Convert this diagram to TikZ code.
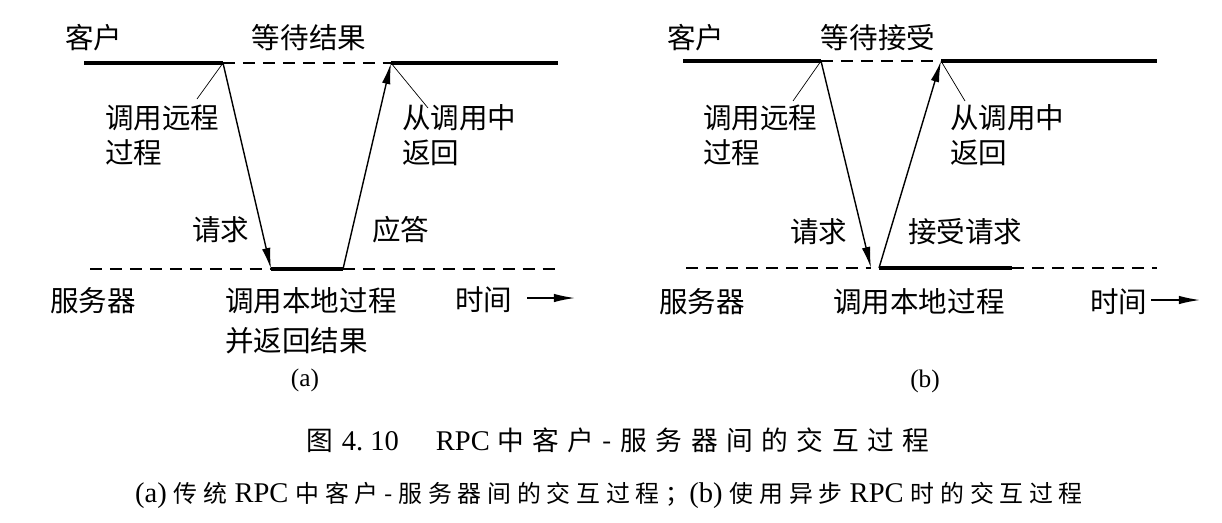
\documentclass[tikz,border=0pt]{standalone}
\usepackage{fontspec}
\setmainfont{Liberation Serif}
\newfontfamily\cjk{Noto Sans CJK SC}
\newfontfamily\cjktitle{Noto Sans CJK SC}[LetterSpace=32]
\newfontfamily\cjknote{Noto Sans CJK SC}[LetterSpace=24]
\newcommand{\titlecjk}[1]{{\cjktitle\fontsize{19}{24}\selectfont #1}}
\newcommand{\notecjk}[1]{{\cjknote\fontsize{17}{20}\selectfont #1}}
\usetikzlibrary{arrows.meta}
\tikzset{
	lbl/.style={inner sep=0pt,anchor=base west,align=left,font=\cjk\fontsize{20.3}{24.2}\selectfont},
	subtag/.style={inner sep=0pt,font=\fontsize{18}{22}\selectfont},
	figcap/.style={inner sep=0pt,anchor=base,font=\fontsize{20.3}{24}\selectfont},
	life/.style={line width=2.4pt},
	idle/.style={line width=0.8pt,dash pattern=on 8.5pt off 5.7pt},
	msg/.style={line width=1pt,-{Latex[length=15pt,width=6pt]}},
	hint/.style={line width=0.5pt}
}
\begin{document}
\begin{tikzpicture}[x=0.025cm,y=-0.025cm]
	\useasboundingbox (0,0) rectangle (1222,522);
	% (a)
	\coordinate (ca-s) at (84,63);
	\coordinate (ca-call) at (223,63);
	\coordinate (ca-ret) at (391,63);
	\coordinate (ca-e) at (558,63);
	\coordinate (sa-s) at (90,269);
	\coordinate (sa-in) at (271,269);
	\coordinate (sa-out) at (343,269);
	\coordinate (sa-e) at (558,269);
	\coordinate (la-call) at (197,99);
	\coordinate (la-ret) at (428,108);
	\coordinate (ta-s) at (527,298);
	\coordinate (ta-e) at (575,298);
	\node[lbl] (cli-a) at (65,48) {客户};
	\node[lbl,anchor=base] (wait-a) at (309,48) {等待结果};
	\node[lbl] (call-a) at (105,163) {调用远程\\过程};
	\node[lbl] (ret-a) at (402,163) {从调用中\\返回};
	\node[lbl] (req-a) at (192,240) {请求};
	\node[lbl] (rep-a) at (372,240) {应答};
	\node[lbl] (srv-a) at (50,311) {服务器};
	\node[lbl] (loc-a) at (225,351) {调用本地过程\\[4pt]并返回结果};
	\node[lbl] (time-a) at (455,310) {时间};
	\node[subtag] (tag-a) at (305,380) {(a)};
	\path
	(ca-s) edge[life] (ca-call)
	(ca-call) edge[idle] (ca-ret)
	edge[msg] (sa-in)
	edge[hint] (la-call)
	(ca-ret) edge[life] (ca-e)
	edge[hint] (la-ret)
	(sa-s) edge[idle] (sa-in)
	(sa-in) edge[life] (sa-out)
	(sa-out) edge[idle] (sa-e)
	edge[msg] (ca-ret)
	(ta-s) edge[msg] (ta-e)
	;
	% (b)
	\coordinate (cb-s) at (683,61);
	\coordinate (cb-call) at (821,61);
	\coordinate (cb-ret) at (941,61);
	\coordinate (cb-e) at (1157,61);
	\coordinate (sb-s) at (686,268);
	\coordinate (sb-in) at (871,268);
	\coordinate (sb-out) at (879,268);
	\coordinate (sb-done) at (1012,268);
	\coordinate (sb-e) at (1157,268);
	\coordinate (lb-call) at (793,101);
	\coordinate (lb-ret) at (965,101);
	\coordinate (tb-s) at (1151,300);
	\coordinate (tb-e) at (1200,300);
	\node[lbl] (cli-b) at (667,48) {客户};
	\node[lbl,anchor=base] (wait-b) at (878,48) {等待接受};
	\node[lbl] (call-b) at (703,163) {调用远程\\过程};
	\node[lbl] (ret-b) at (950,163) {从调用中\\返回};
	\node[lbl] (req-b) at (790,242) {请求};
	\node[lbl] (acc-b) at (908,242) {接受请求};
	\node[lbl] (srv-b) at (659,312) {服务器};
	\node[lbl] (loc-b) at (833,312) {调用本地过程};
	\node[lbl] (time-b) at (1090,312) {时间};
	\node[subtag] (tag-b) at (925,381) {(b)};
	\path
	(cb-s) edge[life] (cb-call)
	(cb-call) edge[idle] (cb-ret)
	edge[msg] (sb-in)
	edge[hint] (lb-call)
	(cb-ret) edge[life] (cb-e)
	edge[hint] (lb-ret)
	(sb-s) edge[idle] (sb-in)
	(sb-out) edge[life] (sb-done)
	edge[msg] (cb-ret)
	(sb-done) edge[idle] (sb-e)
	(tb-s) edge[msg] (tb-e)
	;
	% captions
	\node[figcap] (title) at (618,450) {\titlecjk{图}\hspace{0.3em}4.\hspace{0.25em}10\hspace{1.3em}RPC \titlecjk{中客户-服务器间的交互过程}};
	\node[figcap] (note) at (609,502) {(a) \notecjk{传统} RPC \notecjk{中客户-服务器间的交互过程；}(b) \notecjk{使用异步} RPC \notecjk{时的交互过程}};
\end{tikzpicture}
\end{document}
